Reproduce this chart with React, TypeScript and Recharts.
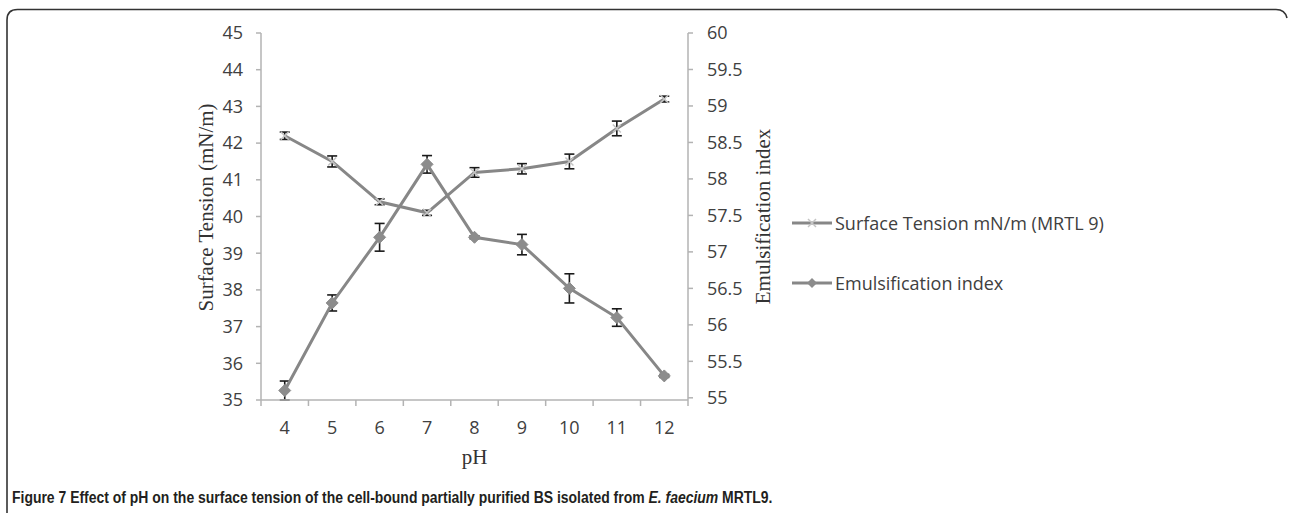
import React from 'react';
import { LineChart, Line, XAxis, YAxis, ErrorBar, Legend } from 'recharts';

const phValues = [4, 5, 6, 7, 8, 9, 10, 11, 12];
const surfaceTension = [42.2, 41.5, 40.4, 40.1, 41.2, 41.3, 41.5, 42.4, 43.2];
const surfaceTensionErr = [0.1, 0.15, 0.08, 0.07, 0.13, 0.14, 0.2, 0.2, 0.08];
const emulsificationIndex = [55.1, 56.3, 57.2, 58.2, 57.2, 57.1, 56.5, 56.1, 55.3];
const emulsificationErr = [0.13, 0.11, 0.19, 0.12, 0.02, 0.14, 0.2, 0.12, 0.02];

const leftTicks = [35, 36, 37, 38, 39, 40, 41, 42, 43, 44, 45];
const rightTicks = [55, 55.5, 56, 56.5, 57, 57.5, 58, 58.5, 59, 59.5, 60];
const xLabelTicks = [4, 5, 6, 7, 8, 9, 10, 11, 12];
const xBoundaryTicks = [3.5, 4.5, 5.5, 6.5, 7.5, 8.5, 9.5, 10.5, 11.5, 12.5];

const seriesNames = ['Surface Tension mN/m (MRTL 9)', 'Emulsification index'];

const data = phValues.map((ph, i) => ({
  ph,
  st: surfaceTension[i],
  stErr: surfaceTensionErr[i],
  ei: emulsificationIndex[i],
  eiErr: emulsificationErr[i],
}));

const AXIS = '#b3b3b3';
const LINE = '#878787';
const TXT = '#404040';
const TICK_FONT = { fill: TXT, fontSize: 18, fontFamily: '"Open Sans", sans-serif' };

const XDot = (props: any) => {
  const { cx, cy } = props;
  if (cx == null || cy == null) return null;
  return (
    <g>
      <line x1={cx - 4} y1={cy - 4} x2={cx + 4} y2={cy + 4} stroke="#c4c4c4" strokeWidth={1.5} />
      <line x1={cx - 4} y1={cy + 4} x2={cx + 4} y2={cy - 4} stroke="#c4c4c4" strokeWidth={1.5} />
    </g>
  );
};

const DiamondDot = (props: any) => {
  const { cx, cy } = props;
  if (cx == null || cy == null) return null;
  const s = 6;
  return (
    <polygon
      points={`${cx},${cy - s} ${cx + s},${cy} ${cx},${cy + s} ${cx - s},${cy}`}
      fill="#8c8c8c"
      stroke="#8c8c8c"
      strokeWidth={1}
    />
  );
};

const renderLeftLabel = (props: any) => {
  const vb = props.viewBox;
  const cx = vb.x + 5;
  const cy = vb.y + vb.height / 2 - 9;
  return (
    <text
      x={cx}
      y={cy}
      transform={`rotate(-90 ${cx} ${cy})`}
      textAnchor="middle"
      dominantBaseline="central"
      fill="#333"
      fontSize={21}
      fontFamily='"Liberation Serif", "Times New Roman", serif'
    >
      Surface Tension (mN/m)
    </text>
  );
};

const renderRightLabel = (props: any) => {
  const vb = props.viewBox;
  const cx = vb.x + 75;
  const cy = vb.y + vb.height / 2;
  return (
    <text
      x={cx}
      y={cy}
      transform={`rotate(-90 ${cx} ${cy})`}
      textAnchor="middle"
      dominantBaseline="central"
      fill="#333"
      fontSize={21}
      fontFamily='"Liberation Serif", "Times New Roman", serif'
    >
      Emulsification index
    </text>
  );
};

const renderXLabel = (props: any) => {
  const vb = props.viewBox;
  const cx = vb.x + vb.width / 2;
  const y = vb.y + 63;
  return (
    <text
      x={cx}
      y={y}
      textAnchor="middle"
      fill="#333"
      fontSize={21}
      fontFamily='"Liberation Serif", "Times New Roman", serif'
    >
      pH
    </text>
  );
};

const renderLegend = (props: any) => {
  const payload = [...(props.payload || [])].sort(
    (a: any, b: any) => seriesNames.indexOf(a.value) - seriesNames.indexOf(b.value)
  );
  return (
    <div style={{ fontFamily: '"Open Sans", sans-serif', fontSize: 18, color: TXT }}>
      {payload.map((entry: any, i: number) => (
        <div
          key={i}
          style={{ display: 'flex', alignItems: 'center', height: 24, marginTop: i === 0 ? 0 : 36, whiteSpace: 'nowrap' }}
        >
          <svg width={44} height={24} style={{ display: 'block', flexShrink: 0 }}>
            <line x1={4} y1={12} x2={44} y2={12} stroke={LINE} strokeWidth={3} />
            {entry.value === seriesNames[0] ? (
              <g>
                <line x1={20} y1={8} x2={28} y2={16} stroke="#c4c4c4" strokeWidth={1.5} />
                <line x1={20} y1={16} x2={28} y2={8} stroke="#c4c4c4" strokeWidth={1.5} />
              </g>
            ) : (
              <polygon points="24,7 29,12 24,17 19,12" fill="#8c8c8c" />
            )}
          </svg>
          <span style={{ marginLeft: 3 }}>{entry.value}</span>
        </div>
      ))}
    </div>
  );
};

export default function App() {
  return (
    <div style={{ position: 'absolute', left: 0, top: 0, width: 1289, height: 513, background: '#fff' }}>
      <svg
        width={1289}
        height={513}
        style={{ position: 'absolute', left: 0, top: 0, pointerEvents: 'none' }}
      >
        <path
          d="M7 513 L7 20 Q7 9.5 17.5 9.5 L1276 9.5 Q1285 9.5 1287 18"
          stroke="#333"
          strokeWidth={1.6}
          fill="none"
        />
      </svg>
      <div style={{ position: 'absolute', left: 0, top: 0 }}>
        <LineChart
          width={1289}
          height={470}
          data={data}
          margin={{ top: 33, right: 511, bottom: 9, left: 201 }}
        >
          <XAxis
            xAxisId="t"
            type="number"
            dataKey="ph"
            domain={[3.5, 12.5]}
            allowDataOverflow
            ticks={xBoundaryTicks}
            interval={0}
            height={1}
            tickSize={6}
            tickFormatter={() => ''}
            tick={{ fontSize: 1 }}
            tickLine={{ stroke: AXIS, strokeWidth: 1.5 }}
            axisLine={{ stroke: AXIS, strokeWidth: 1.5 }}
          />
          <XAxis
            xAxisId="x"
            type="number"
            dataKey="ph"
            domain={[3.5, 12.5]}
            allowDataOverflow
            ticks={xLabelTicks}
            interval={0}
            height={60}
            tickSize={8}
            tickMargin={12}
            tickLine={false}
            axisLine={false}
            tick={TICK_FONT}
            label={{ content: renderXLabel }}
          />
          <YAxis
            yAxisId="left"
            domain={[35, 45]}
            ticks={leftTicks}
            interval={0}
            width={60}
            tickSize={5}
            tickMargin={13}
            tick={TICK_FONT}
            tickLine={{ stroke: AXIS, strokeWidth: 1.5 }}
            axisLine={{ stroke: AXIS, strokeWidth: 1.5 }}
            label={{ content: renderLeftLabel }}
          />
          <YAxis
            yAxisId="right"
            orientation="right"
            domain={[55, 60]}
            ticks={rightTicks}
            interval={0}
            width={90}
            tickSize={5}
            tickMargin={14}
            tick={TICK_FONT}
            tickFormatter={(v: number) => String(v)}
            tickLine={{ stroke: AXIS, strokeWidth: 1.5 }}
            axisLine={{ stroke: AXIS, strokeWidth: 1.5 }}
            label={{ content: renderRightLabel }}
          />
          <Legend
            layout="vertical"
            align="center"
            verticalAlign="middle"
            wrapperStyle={{ left: 788, top: 211, width: 360 }}
            content={renderLegend}
          />
          <Line
            xAxisId="x"
            yAxisId="left"
            dataKey="st"
            name={seriesNames[0]}
            stroke={LINE}
            strokeWidth={3}
            dot={(p: any) => <XDot key={`st-${p.index}`} {...p} />}
            activeDot={false}
            isAnimationActive={false}
          >
            <ErrorBar dataKey="stErr" direction="y" width={5} stroke="#1a1a1a" strokeWidth={1.6} isAnimationActive={false} />
          </Line>
          <Line
            xAxisId="x"
            yAxisId="right"
            dataKey="ei"
            name={seriesNames[1]}
            stroke={LINE}
            strokeWidth={3}
            dot={(p: any) => <DiamondDot key={`ei-${p.index}`} {...p} />}
            activeDot={false}
            isAnimationActive={false}
          >
            <ErrorBar dataKey="eiErr" direction="y" width={5} stroke="#1a1a1a" strokeWidth={1.6} isAnimationActive={false} />
          </Line>
        </LineChart>
      </div>
      <div
        style={{
          position: 'absolute',
          left: 12,
          top: 490,
          whiteSpace: 'nowrap',
          fontFamily: '"Liberation Sans", Arial, sans-serif',
          fontWeight: 700,
          fontSize: 16,
          lineHeight: '16px',
          color: '#231f20',
          transform: 'scaleX(0.872)',
          transformOrigin: 'left top',
        }}
      >
        Figure 7 Effect of pH on the surface tension of the cell-bound partially purified BS isolated from{' '}
        <i>E. faecium</i> MRTL9.
      </div>
    </div>
  );
}
